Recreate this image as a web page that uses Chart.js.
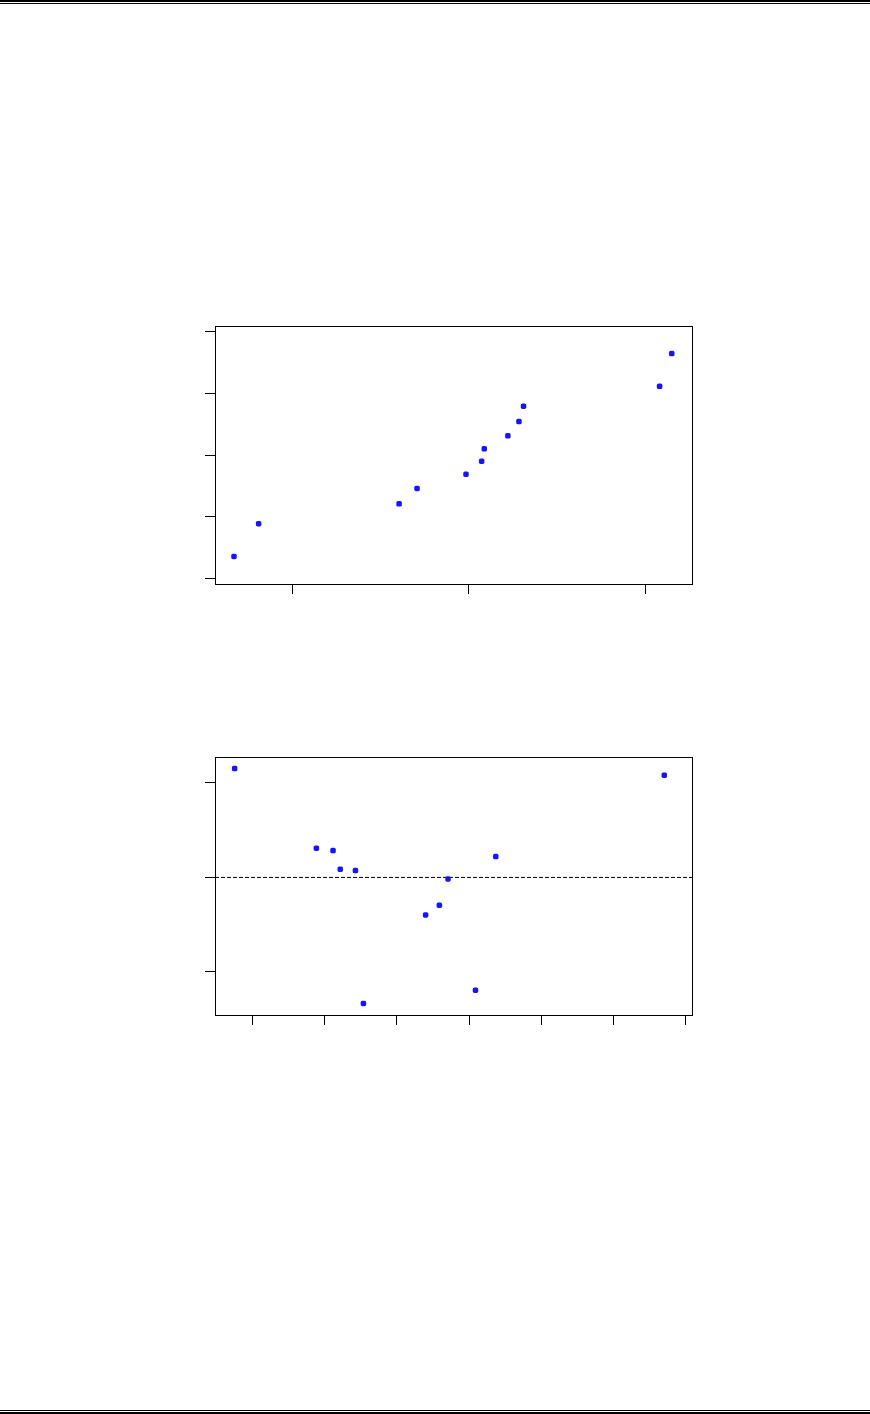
<!doctype html>
<html>

<head>
	<title>Residual Plots</title>
	<script src="https://cdn.jsdelivr.net/npm/chart.js@4.4.1/dist/chart.umd.min.js"></script>
	<style>
		body {
			margin: 0;
			width: 870px;
			height: 1414px;
			position: relative;
			background: #fff;
			overflow: hidden;
		}
		.rule {
			position: absolute;
			left: 0;
			width: 870px;
			background: #000;
		}
		canvas {
			position: absolute;
		}
	</style>
</head>

<body>
	<div class="rule" style="top:0px;height:2px"></div>
	<div class="rule" style="top:3px;height:1px"></div>
	<canvas id="normPlot" width="530" height="300" style="left:180px;top:310px"></canvas>
	<canvas id="fitPlot" width="530" height="300" style="left:180px;top:740px"></canvas>
	<div class="rule" style="top:1410px;height:1px"></div>
	<div class="rule" style="top:1412px;height:2px"></div>
	<script>
		// normal probability plot: residuals (sorted) vs normal scores
		const sortedResiduals = [-1.335, -1.195, -0.397, -0.295, -0.017, 0.072, 0.087, 0.221, 0.284, 0.310, 1.083, 1.152];
		const normalScores = [-1.64, -1.11, -0.79, -0.54, -0.31, -0.10, 0.10, 0.31, 0.54, 0.79, 1.11, 1.64];
		const xTicks1 = [-1, 0, 1];
		const yTicks1 = [-2, -1, 0, 1, 2];

		// residuals vs fitted values
		const fittedValues = [-0.24, 0.89, 1.12, 1.22, 1.43, 1.54, 2.40, 2.59, 2.71, 3.09, 3.37, 5.70];
		const residuals = [1.152, 0.310, 0.284, 0.087, 0.072, -1.335, -0.397, -0.295, -0.017, -1.195, 0.221, 1.083];
		const xTicks2 = [0, 1, 2, 3, 4, 5, 6];
		const yTicks2 = [-1, 0, 1];

		const pointColor = '#1414ff';

		// box round the plot area
		const frame = {
			id: 'frame',
			afterDraw(chart) {
				const a = chart.chartArea;
				const ctx = chart.ctx;
				ctx.save();
				ctx.strokeStyle = '#000';
				ctx.lineWidth = 1;
				const l = Math.round(a.left) + 0.5, t = Math.round(a.top) + 0.5;
				const r = Math.round(a.right) + 0.5, b = Math.round(a.bottom) + 0.5;
				ctx.strokeRect(l, t, r - l, b - t);
				ctx.restore();
			}
		};

		function axis(min, max, tickValues) {
			return {
				type: 'linear',
				min: min,
				max: max,
				afterBuildTicks: (scale) => {
					scale.ticks = tickValues.map((v) => ({value: v}));
				},
				ticks: {display: false},
				border: {display: false},
				grid: {
					display: true,
					drawOnChartArea: false,
					drawTicks: true,
					tickLength: 10,
					tickColor: '#000',
					tickWidth: 1
				}
			};
		}

		function points(xs, ys) {
			return xs.map((x, i) => ({x: x, y: ys[i]}));
		}

		const baseOptions = {
			responsive: false,
			animation: false,
			events: [],
			plugins: {
				legend: {display: false},
				tooltip: {enabled: false}
			}
		};

		new Chart(document.getElementById('normPlot'), {
			type: 'scatter',
			data: {
				datasets: [{
					data: points(sortedResiduals, normalScores),
					pointStyle: 'rectRounded',
					pointRadius: 3.2,
					backgroundColor: pointColor,
					borderColor: pointColor,
					borderWidth: 0
				}]
			},
			options: Object.assign({}, baseOptions, {
				layout: {padding: {left: 25, right: 18, top: 16, bottom: 16}},
				scales: {
					x: axis(-1.443, 1.267, xTicks1),
					y: axis(-2.086, 2.086, yTicks1)
				}
			}),
			plugins: [frame]
		});

		const xMin2 = -0.512, xMax2 = 6.083;

		new Chart(document.getElementById('fitPlot'), {
			type: 'scatter',
			data: {
				datasets: [{
					data: points(fittedValues, residuals),
					pointStyle: 'rectRounded',
					pointRadius: 3.2,
					backgroundColor: pointColor,
					borderColor: pointColor,
					borderWidth: 0
				}, {
					type: 'line',
					data: [{x: xMin2, y: 0}, {x: xMax2, y: 0}],
					borderColor: '#000',
					borderWidth: 1,
					borderDash: [4, 2],
					pointRadius: 0
				}]
			},
			options: Object.assign({}, baseOptions, {
				layout: {padding: {left: 25, right: 18, top: 17, bottom: 15}},
				scales: {
					x: axis(xMin2, xMax2, xTicks2),
					y: axis(-1.457, 1.275, yTicks2)
				}
			}),
			plugins: [frame]
		});
	</script>
</body>

</html>
